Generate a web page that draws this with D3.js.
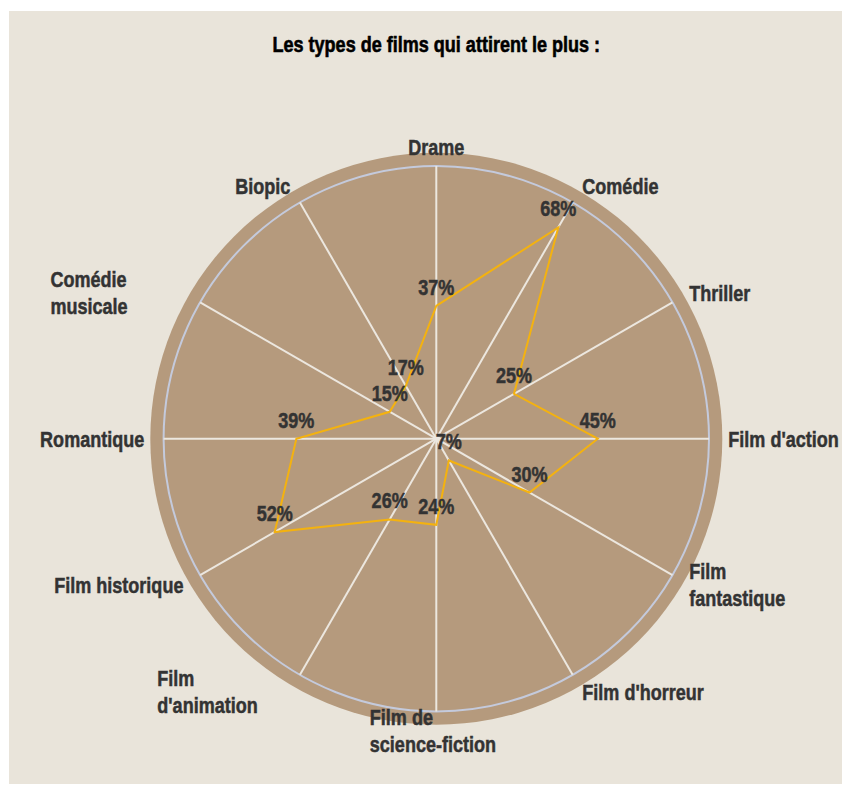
<!DOCTYPE html>
<html>
<head>
<meta charset="utf-8">
<script src="https://cdn.jsdelivr.net/npm/d3@7"></script>
<style>
  html, body { margin: 0; padding: 0; background: #ffffff; }
  svg { display: block; }
  text { font-family: "Liberation Sans", Arial, sans-serif; font-weight: bold; }
</style>
</head>
<body>
<svg id="chart"></svg>
<script>
var width = 842,
    height = 791;

// data
const title = "Les types de films qui attirent le plus :";
const categories = ["Drame", "Comédie", "Thriller", "Film d'action", "Film\nfantastique",
                    "Film d'horreur", "Film de\nscience-fiction", "Film\nd'animation",
                    "Film historique", "Romantique", "Comédie\nmusicale", "Biopic"];
const values = [37, 68, 25, 45, 30, 7, 24, 26, 52, 39, 15, 17];
const maxValue = 76;

var cx = 436.3, cy = 438.7,
    gridR = 272.7,
    outerR = 286,
    labelR = 292,
    wrapWidth = 133,
    sx = 0.82;   // squeeze the font to look condensed

var svg = d3.select('#chart')
            .attr('width', width)
            .attr('height', height);

svg.append('rect')
   .attr('x', 9).attr('y', 11)
   .attr('width', width - 9).attr('height', height - 18)
   .attr('fill', '#e9e4da');

svg.append('text')
   .attr('transform', `translate(${cx},52) scale(${sx},1)`)
   .attr('text-anchor', 'middle')
   .attr('font-size', 22)
   .attr('fill', '#000')
   .attr('stroke', '#000').attr('stroke-width', 0.6)
   .text(title);

var r = d3.scaleLinear().domain([0, maxValue]).range([0, gridR]);
var angle = d3.scaleLinear().domain([0, categories.length]).range([0, 2 * Math.PI]);

var g = svg.append('g').attr('transform', `translate(${cx},${cy})`);

g.append('circle').attr('r', outerR).attr('fill', '#b59a7d');
g.append('circle').attr('r', gridR)
 .attr('fill', 'none').attr('stroke', '#c4cadc').attr('stroke-width', 2);

g.selectAll('line.spoke')
 .data(categories)
 .join('line')
 .attr('class', 'spoke')
 .attr('x1', 0).attr('y1', 0)
 .attr('x2', (d, i) => gridR * Math.sin(angle(i)))
 .attr('y2', (d, i) => -gridR * Math.cos(angle(i)))
 .attr('stroke', '#ece7df')
 .attr('stroke-width', 2);

var line = d3.lineRadial()
             .angle((d, i) => angle(i))
             .radius(d => r(d))
             .curve(d3.curveLinearClosed);

g.append('path')
 .datum(values)
 .attr('d', line)
 .attr('fill', 'none')
 .attr('stroke', '#f4b20f')
 .attr('stroke-width', 2);

// value labels just above each vertex
g.selectAll('text.value')
 .data(values)
 .join('text')
 .attr('class', 'value')
 .attr('transform', (d, i) => `translate(${r(d) * Math.sin(angle(i))},${-r(d) * Math.cos(angle(i)) - 11}) scale(${sx},1)`)
 .attr('text-anchor', 'middle')
 .attr('font-size', 22)
 .attr('fill', '#333333')
 .attr('stroke', '#333333').attr('stroke-width', 0.5)
 .text(d => d + '%');

// category labels around the circle
var lh = 27;
var labels = g.selectAll('g.cat')
              .data(categories)
              .join('g')
              .attr('class', 'cat');

labels.each(function (d, i) {
    var lines = d.split('\n');
    var t = d3.select(this).append('text')
              .attr('font-size', 22)
              .attr('fill', '#333333')
              .attr('stroke', '#333333').attr('stroke-width', 0.5)
              .attr('transform', `scale(${sx},1)`);
    t.selectAll('tspan')
     .data(lines)
     .join('tspan')
     .attr('x', 0)
     .attr('y', (l, k) => k * lh)
     .text(l => l);
    var w = lines.length > 1 ? wrapWidth : t.node().getBBox().width * sx;
    var a = angle(i);
    var px = labelR * Math.sin(a), py = -labelR * Math.cos(a);
    var left;
    if (Math.abs(Math.sin(a)) < 0.01) left = px - w / 2;
    else if (Math.sin(a) > 0) left = px;
    else left = px - w;
    var top = py - (lines.length - 1) * lh / 2 + 8;
    d3.select(this).attr('transform', `translate(${left},${top})`);
});
</script>
</body>
</html>
